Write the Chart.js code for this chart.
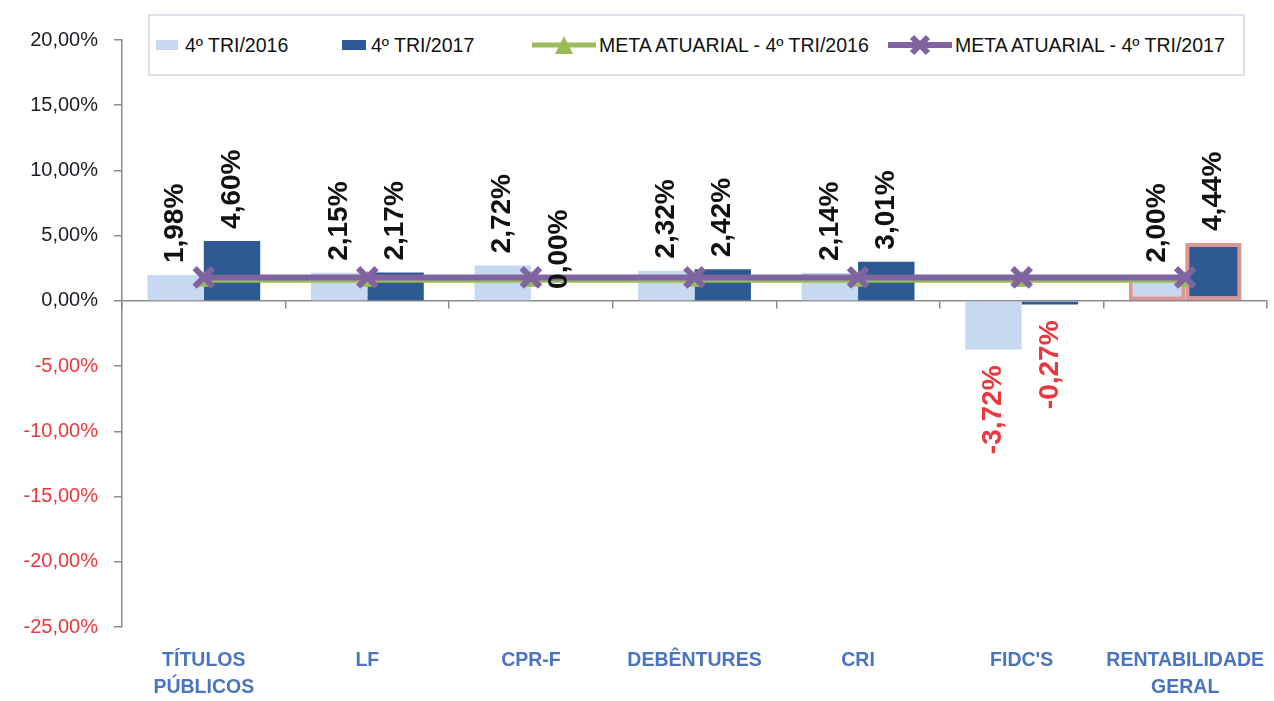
<!DOCTYPE html>
<html>
<head>
<meta charset="utf-8">
<script src="https://cdn.jsdelivr.net/npm/chart.js@4.4.1/dist/chart.umd.min.js"></script>
<style>
  body { margin: 0; background: #fff; }
  #wrap { position: relative; width: 1274px; height: 701px; }
  #legend {
    position: absolute; left: 148px; top: 14px; width: 1093px; height: 58px;
    border: 2px solid #dde1ea; background: #fff;
    font-family: 'Liberation Sans', Arial, sans-serif;
    font-size: 19.5px; color: #111;
  }
  .item { position: absolute; top: 0; height: 58px; display: flex; align-items: center; white-space: nowrap; }
  .item svg { margin-right: 3px; }
</style>
</head>
<body>
<div id="wrap">
  <canvas id="myChart"></canvas>
  <div id="legend">
    <div class="item" style="left:6px">
      <svg width="26" height="12"><rect x="0" y="1" width="22" height="10" fill="#c6d9f0"/></svg>4º TRI/2016
    </div>
    <div class="item" style="left:192px">
      <svg width="26" height="12"><rect x="0" y="1" width="24" height="10" fill="#2e5a94"/></svg>4º TRI/2017
    </div>
    <div class="item" style="left:382px">
      <svg width="64" height="24"><line x1="0" y1="12" x2="64" y2="12" stroke="#9bbb59" stroke-width="5"/><path d="M32 3 L41 21 L23 21 Z" fill="#9bbb59"/></svg>META ATUARIAL - 4º TRI/2016
    </div>
    <div class="item" style="left:738px">
      <svg width="64" height="24"><line x1="0" y1="12" x2="64" y2="12" stroke="#8064a2" stroke-width="6"/><path d="M24 4 L40 20 M40 4 L24 20" stroke="#8064a2" stroke-width="6"/></svg>META ATUARIAL - 4º TRI/2017
    </div>
  </div>
</div>
<script>
const categories = [['TÍTULOS', 'PÚBLICOS'], 'LF', 'CPR-F', 'DEBÊNTURES', 'CRI', "FIDC'S", ['RENTABILIDADE', 'GERAL']];
const tri2016 = [1.98, 2.15, 2.72, 2.32, 2.14, -3.72, 2.00];
const tri2017 = [4.60, 2.17, 0.00, 2.42, 3.01, -0.27, 4.44];
const meta2016 = [1.5, 1.5, 1.5, 1.5, 1.5, 1.5, 1.5];
const meta2017 = [1.8, 1.8, 1.8, 1.8, 1.8, 1.8, 1.8];
const yMin = -25, yMax = 20, yStep = 5;

const font = "'Liberation Sans', Arial, sans-serif";
const red = '#e8383d';

function pct(v) {
    return v.toFixed(2).replace('.', ',') + '%';
}

// outline only on the last group (rentabilidade geral)
const outlineColor = ctx => ctx.dataIndex === categories.length - 1 ? '#dc9696' : 'rgba(0,0,0,0)';
const outlineWidth = ctx => ctx.dataIndex === categories.length - 1 ? 4 : 0;

// rotated value labels above / below the bars
const barLabels = {
    id: 'barLabels',
    afterDatasetsDraw(chart) {
        const ctx = chart.ctx;
        ctx.save();
        ctx.font = 'bold 28px ' + font;
        ctx.textBaseline = 'middle';
        chart.data.datasets.forEach((ds, i) => {
            if (ds.type === 'line') return;
            const meta = chart.getDatasetMeta(i);
            meta.data.forEach((bar, j) => {
                const v = ds.data[j];
                ctx.save();
                if (v >= 0) {
                    ctx.translate(bar.x, Math.min(bar.y, bar.base) - 12);
                    ctx.rotate(-Math.PI / 2);
                    ctx.textAlign = 'left';
                    ctx.fillStyle = '#111';
                } else {
                    ctx.translate(bar.x, Math.max(bar.y, bar.base) + 16);
                    ctx.rotate(-Math.PI / 2);
                    ctx.textAlign = 'right';
                    ctx.fillStyle = red;
                }
                ctx.fillText(pct(v), 0, 0);
                ctx.restore();
            });
        });
        ctx.restore();
    }
};

new Chart(document.getElementById('myChart'), {
    type: 'bar',
    data: {
        labels: categories,
        datasets: [
            {
                label: '4º TRI/2016',
                data: tri2016,
                backgroundColor: '#c6d9f0',
                borderColor: outlineColor,
                borderWidth: outlineWidth,
                borderSkipped: false,
                order: 3
            },
            {
                label: '4º TRI/2017',
                data: tri2017,
                backgroundColor: '#2e5a94',
                borderColor: outlineColor,
                borderWidth: outlineWidth,
                borderSkipped: false,
                order: 3
            },
            {
                type: 'line',
                label: 'META ATUARIAL - 4º TRI/2016',
                data: meta2016,
                borderColor: '#9bbb59',
                backgroundColor: '#9bbb59',
                borderWidth: 3,
                pointStyle: 'triangle',
                pointRadius: 10,
                pointBorderWidth: 1,
                order: 2
            },
            {
                type: 'line',
                label: 'META ATUARIAL - 4º TRI/2017',
                data: meta2017,
                borderColor: '#8064a2',
                backgroundColor: '#8064a2',
                borderWidth: 6,
                pointStyle: 'crossRot',
                pointRadius: 13,
                pointBorderWidth: 6,
                order: 1
            }
        ]
    },
    options: {
        responsive: true,
        maintainAspectRatio: false,
        animation: false,
        layout: { autoPadding: false, padding: { top: 40, right: 7, left: 5, bottom: 0 } },
        datasets: {
            bar: { categoryPercentage: 0.69, barPercentage: 1 }
        },
        plugins: {
            legend: { display: false },
            tooltip: { enabled: false }
        },
        scales: {
            x: {
                grid: { display: false, drawTicks: false },
                border: { display: false },
                ticks: {
                    color: '#4a74bd',
                    font: { family: font, size: 19.5, weight: 'bold', lineHeight: 1.4 },
                    padding: 20,
                    maxRotation: 0,
                    autoSkip: false
                },
                afterFit: s => {
                    s.height = 74;
                    // let the last label hang into the right margin
                    s.paddingLeft = 0;
                    s.paddingRight = 0;
                }
            },
            x2: {
                type: 'category',
                position: { y: 0 },
                offset: true,
                grid: { offset: true, drawOnChartArea: false, tickLength: 7, color: '#8a8a8a', lineWidth: 1.5 },
                border: { color: '#8a8a8a', width: 1.5 },
                ticks: { display: false }
            },
            y: {
                min: yMin,
                max: yMax,
                grid: { drawOnChartArea: false, tickLength: 8, color: '#8a8a8a', lineWidth: 1.5 },
                border: { color: '#8a8a8a', width: 1.5 },
                ticks: {
                    stepSize: yStep,
                    padding: 16,
                    font: { family: font, size: 20 },
                    color: ctx => ctx.tick.value < 0 ? red : '#1c1c24',
                    callback: v => pct(v)
                },
                afterFit: s => { s.width = 117; }
            }
        }
    },
    plugins: [barLabels]
});
</script>
</body>
</html>
